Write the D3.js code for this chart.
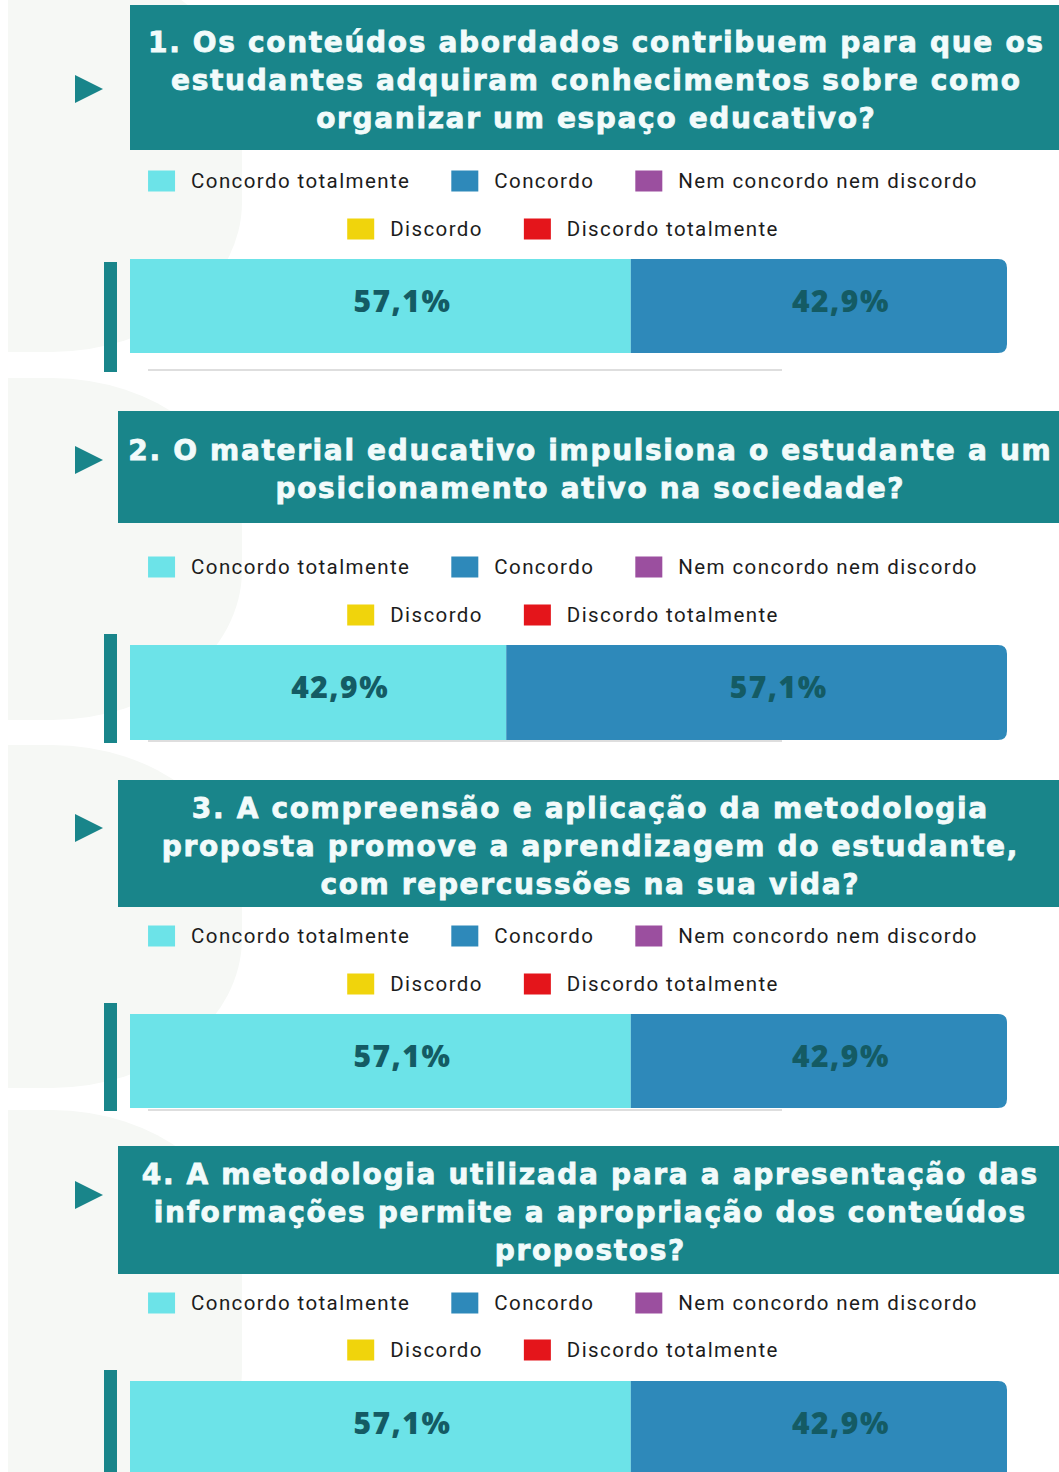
<!DOCTYPE html>
<html lang="pt">
<head>
<meta charset="UTF-8">
<title>Questionário</title>
<script src="https://cdn.jsdelivr.net/npm/d3@7"></script>
<style>
  body { margin: 0; background: #fff; }
  svg { display: block; }
  .head { font-family: 'DejaVu Sans', sans-serif; font-weight: bold; fill: #f2fbfb; stroke: #f2fbfb; stroke-width: 0.8px; }
  .leg { font-family: 'Roboto', sans-serif; font-size: 20.5px; fill: #1c1c1c; letter-spacing: 1.4px; }
  .val { font-family: 'Open Sans', sans-serif; font-weight: 800; font-size: 30px; fill: #145b64; letter-spacing: 1.5px; }
</style>
</head>
<body>
<svg id="chart" width="1059" height="1472"></svg>
<script>
// ---- data
const categories = ["Concordo totalmente", "Concordo", "Nem concordo nem discordo", "Discordo", "Discordo totalmente"];
const colors = ["#6ce3e8", "#2e89ba", "#9b4f9f", "#f0d40c", "#e4151b"];

const questions = [
  ["1. Os conteúdos abordados contribuem para que os", "estudantes adquiram conhecimentos sobre como", "organizar um espaço educativo?"],
  ["2. O material educativo impulsiona o estudante a um", "posicionamento ativo na sociedade?"],
  ["3. A compreensão e aplicação da metodologia", "proposta promove a aprendizagem do estudante,", "com repercussões na sua vida?"],
  ["4. A metodologia utilizada para a apresentação das", "informações permite a apropriação dos conteúdos", "propostos?"]
];

const q1 = [57.1, 42.9, 0, 0, 0];
const q2 = [42.9, 57.1, 0, 0, 0];
const q3 = [57.1, 42.9, 0, 0, 0];
const q4 = [57.1, 42.9, 0, 0, 0];
const answers = [q1, q2, q3, q4];

// ---- layout for each panel (pixel positions)
const panels = [
  { hx: 130, hy: 5, hh: 145, lines: [42, 80, 118], tri: 89, leg: [181, 229], by: 259, bh: 94, vb: [262, 372], gl: 370, bg: [-40, 352] },
  { hx: 118, hy: 411, hh: 112, lines: [450, 488], tri: 460, leg: [567, 615], by: 645, bh: 95, vb: [634, 743], gl: 741, bg: [378, 720] },
  { hx: 118, hy: 780, hh: 127, lines: [808, 846, 884], tri: 828, leg: [936, 984], by: 1014, bh: 94, vb: [1003, 1111], gl: 1110, bg: [745, 1088] },
  { hx: 118, hy: 1146, hh: 128, lines: [1174, 1212, 1250], tri: 1195, leg: [1303, 1350], by: 1381, bh: 100, vb: [1370, 1472], gl: null, bg: [1110, 1520] }
];

const W = 1059;
const teal = "#19858a";
const barX0 = 130, barX1 = 1007;
const legendCenter = 563;

const svg = d3.select("#chart");

// soft background blobs on the left
svg.append("g").selectAll("rect")
  .data(panels)
  .join("rect")
  .attr("x", -300)
  .attr("y", d => d.bg[0])
  .attr("width", 542)
  .attr("height", d => d.bg[1] - d.bg[0])
  .attr("rx", 190)
  .attr("ry", 150)
  .attr("fill", "#f6f8f5");
svg.append("rect").attr("x", 0).attr("y", 0).attr("width", 8).attr("height", 1472).attr("fill", "#fff");

const x = d3.scaleLinear().domain([0, 100]).range([barX0, barX1]);
const color = d3.scaleOrdinal().domain(categories).range(colors);

// header: fixed size, letter-spacing adjusted so the longest line fills the box
const headSize = 28;
const probe = svg.append("text").attr("class", "head").attr("font-size", headSize);
let maxW = 0, maxN = 1;
questions.forEach(q => q.forEach(l => {
  probe.text(l);
  const w = probe.node().getComputedTextLength();
  if (w > maxW) { maxW = w; maxN = l.length; }
}));
probe.remove();
const headSpacing = (924 - maxW) / maxN;

panels.forEach((p, i) => {
  const g = svg.append("g");

  // header
  g.append("rect").attr("x", p.hx).attr("y", p.hy).attr("width", W - p.hx).attr("height", p.hh).attr("fill", teal);
  g.append("path")
    .attr("d", `M75,${p.tri - 14}L103,${p.tri}L75,${p.tri + 14}Z`)
    .attr("fill", teal);
  g.selectAll("text.head")
    .data(questions[i])
    .join("text")
    .attr("class", "head")
    .attr("font-size", headSize)
    .attr("letter-spacing", headSpacing)
    .attr("x", (p.hx + W) / 2 + 1 + headSpacing / 2)
    .attr("y", (d, k) => p.lines[k])
    .attr("dy", "0.36em")
    .attr("text-anchor", "middle")
    .text(d => d);

  // legend: two centred rows
  const rows = [categories.slice(0, 3), categories.slice(3)];
  rows.forEach((row, r) => {
    const lg = g.append("g");
    let cx = 0;
    row.forEach(c => {
      const item = lg.append("g").attr("transform", `translate(${cx},0)`);
      item.append("rect").attr("x", 0).attr("y", -10.5).attr("width", 27).attr("height", 21).attr("fill", color(c));
      const t = item.append("text").attr("class", "leg").attr("x", 43).attr("dy", "0.35em").text(c);
      cx += 43 + t.node().getComputedTextLength() + 41;
    });
    const total = cx - 41;
    lg.attr("transform", `translate(${legendCenter - total / 2},${p.leg[r]})`);
  });

  // left accent bar
  g.append("rect").attr("x", 104).attr("y", p.vb[0]).attr("width", 13).attr("height", p.vb[1] - p.vb[0]).attr("fill", teal);

  // gray rule under the bar
  if (p.gl !== null) {
    g.append("rect").attr("x", 148).attr("y", p.gl - 1).attr("width", 634).attr("height", 2).attr("fill", "#dedede");
  }

  // stacked bar
  const vals = answers[i];
  let acc = 0;
  const segs = vals.map((v, k) => { const s = { cat: categories[k], v, a: acc }; acc += v; return s; }).filter(s => s.v > 0);

  const clipId = "clip" + i;
  const r = 9, y0 = p.by, y1 = p.by + p.bh;
  g.append("clipPath").attr("id", clipId).append("path")
    .attr("d", `M${barX0},${y0}H${barX1 - r}Q${barX1},${y0} ${barX1},${y0 + r}V${y1 - r}Q${barX1},${y1} ${barX1 - r},${y1}H${barX0}Z`);

  const bg = g.append("g").attr("clip-path", `url(#${clipId})`);
  bg.selectAll("rect")
    .data(segs)
    .join("rect")
    .attr("x", d => x(d.a))
    .attr("y", y0)
    .attr("width", d => x(d.a + d.v) - x(d.a))
    .attr("height", p.bh)
    .attr("fill", d => color(d.cat));

  g.selectAll("text.val")
    .data(segs)
    .join("text")
    .attr("class", "val")
    .attr("x", d => (x(d.a) + x(d.a + d.v)) / 2 + 22)
    .attr("y", y0 + 42)
    .attr("dy", "0.36em")
    .attr("text-anchor", "middle")
    .text(d => d3.format(".1f")(d.v).replace(".", ",") + "%");
});
</script>
</body>
</html>
